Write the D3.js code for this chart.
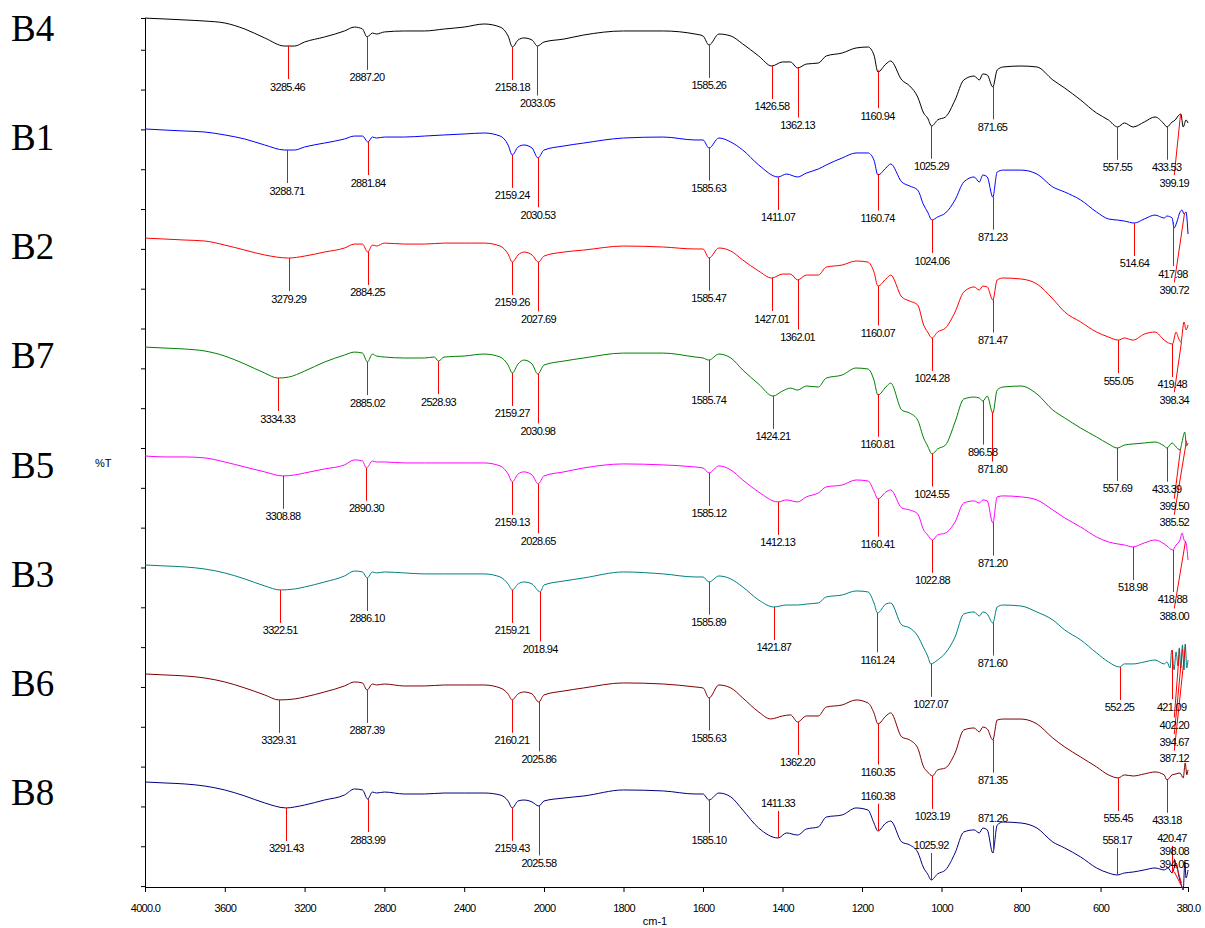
<!DOCTYPE html>
<html><head><meta charset="utf-8">
<script src="https://cdn.jsdelivr.net/npm/d3@7/dist/d3.min.js"></script>
<style>
body{margin:0;background:#fff}
svg{display:block}
</style>
</head><body>
<svg id="chart" width="1205" height="928"></svg>
<script>
// ---------------- DATA ----------------
const sampleNames = ["B4","B1","B2","B7","B5","B3","B6","B8"];
const stackOffsets = [700,600,500,400,300,200,100,0];   // %T offsets used to stack the spectra
const xTickValues = [4000,3600,3200,2800,2400,2000,1800,1600,1400,1200,1000,800,600,380];

// each spectrum: [wavenumber cm-1, %T]
const specB4 = [[4000,100],[3900,99.2],[3800,98.3],[3700,97.3],[3600,95.5],[3500,90.0],[3400,81.8],[3300,74.4],[3250,74.4],[3200,78.1],[3100,82.7],[3000,88.2],[2950,91.8],[2910,90.0],[2887,82.7],[2860,86.3],[2840,85.4],[2800,87.3],[2700,88.2],[2600,88.2],[2500,90.0],[2400,91.8],[2300,94.6],[2220,91.8],[2180,83.6],[2158,73.5],[2130,79.9],[2100,81.8],[2060,79.9],[2033,74.4],[2000,78.1],[1950,80.8],[1900,84.5],[1800,88.2],[1700,88.2],[1620,85.4],[1600,83.6],[1585,75.3],[1560,85.4],[1530,83.6],[1500,76.3],[1460,65.3],[1427,56.1],[1400,59.8],[1380,59.8],[1362,54.3],[1340,57.9],[1310,58.8],[1290,65.3],[1250,68.0],[1215,72.6],[1185,73.5],[1170,66.2],[1160,50.6],[1140,57.9],[1128,60.7],[1100,43.3],[1080,37.8],[1060,27.7],[1045,13.0],[1035,8.4],[1025,1.1],[1010,6.6],[990,9.4],[966,24.9],[944,43.3],[918,46.9],[905,43.3],[896,48.8],[885,47.9],[871,36.9],[860,52.4],[845,55.2],[800,56.1],[760,55.2],[720,43.3],[690,35.9],[650,24.9],[610,13.0],[580,6.6],[557,0.2],[540,3.9],[518,0.2],[490,4.8],[463,9.4],[440,2.9],[433,0.2],[420,4.8],[412,6.6],[405,10.3],[398,12.1],[392,0.2],[385,6.6],[380,3.9]];
const specB1 = [[4000,98.4],[3900,97.4],[3800,96.5],[3700,95.6],[3600,92.9],[3500,89.2],[3400,83.7],[3300,79.1],[3250,79.1],[3200,81.9],[3100,85.5],[3000,89.2],[2950,91.9],[2910,91.9],[2882,86.4],[2860,91.0],[2840,90.1],[2800,91.0],[2700,91.0],[2600,91.9],[2500,92.9],[2400,93.8],[2300,94.7],[2220,91.9],[2180,83.7],[2159,74.5],[2130,81.9],[2100,83.7],[2060,80.9],[2030,71.8],[2000,79.1],[1950,82.8],[1900,85.5],[1800,90.1],[1700,91.0],[1620,88.3],[1600,88.3],[1585,80.9],[1560,90.1],[1530,86.4],[1500,79.1],[1460,65.4],[1411,54.4],[1390,57.1],[1362,54.4],[1340,58.0],[1310,61.7],[1290,65.4],[1250,71.8],[1215,76.4],[1185,76.4],[1170,69.9],[1160,56.2],[1140,62.6],[1128,66.3],[1100,49.8],[1080,46.1],[1060,42.4],[1045,28.7],[1035,22.3],[1024,14.9],[1010,17.7],[990,21.4],[966,33.3],[944,49.8],[918,54.4],[905,49.8],[896,56.2],[885,54.4],[871,36.0],[860,58.9],[845,60.7],[800,60.7],[760,57.1],[720,45.2],[690,40.6],[650,33.3],[610,22.3],[580,15.9],[557,14.9],[540,14.0],[515,12.2],[490,15.9],[463,19.5],[440,16.8],[433,18.6],[420,16.8],[415,7.6],[408,13.1],[400,22.3],[395,24.1],[390,20.5],[385,22.3],[380,2.1]];
const specB2 = [[4000,98.4],[3900,97.5],[3800,96.6],[3700,95.7],[3600,92.0],[3500,87.4],[3400,82.9],[3280,80.1],[3200,81.9],[3100,85.6],[3000,89.3],[2950,92.9],[2910,92.9],[2884,85.6],[2860,92.0],[2840,91.1],[2800,93.8],[2700,92.9],[2600,92.9],[2500,93.8],[2400,93.8],[2300,93.8],[2220,91.1],[2180,83.8],[2159,76.4],[2130,82.9],[2100,85.6],[2060,82.9],[2028,76.4],[2000,81.9],[1950,85.6],[1900,87.4],[1800,91.1],[1700,90.2],[1620,88.4],[1600,88.4],[1585,80.1],[1560,89.3],[1530,86.5],[1500,78.3],[1460,68.2],[1427,61.8],[1400,65.4],[1380,65.4],[1362,60.0],[1340,64.5],[1310,64.5],[1290,71.8],[1250,73.7],[1215,77.4],[1185,76.4],[1170,67.3],[1160,54.4],[1140,60.9],[1128,64.5],[1100,44.4],[1080,40.7],[1060,37.1],[1045,18.7],[1035,12.3],[1024,6.8],[1010,12.3],[990,16.0],[966,30.6],[944,49.0],[918,53.6],[905,50.8],[896,54.4],[885,53.6],[871,41.6],[860,60.0],[845,61.8],[800,60.9],[760,56.3],[720,42.6],[690,30.6],[650,21.5],[610,12.3],[580,7.7],[555,4.9],[540,6.8],[518,4.9],[490,10.4],[463,12.3],[440,4.9],[433,3.1],[419,1.3],[410,12.3],[404,6.8],[398,3.1],[390,21.5],[385,14.2],[380,18.8]];
const specB7 = [[4000,98.5],[3900,97.6],[3800,96.7],[3700,94.9],[3600,90.3],[3500,83.0],[3400,74.7],[3334,70.1],[3280,71.0],[3200,76.5],[3100,84.8],[3000,91.2],[2950,93.9],[2910,93.0],[2885,84.8],[2860,92.1],[2840,90.3],[2800,89.4],[2700,88.5],[2600,88.5],[2550,89.4],[2529,85.7],[2500,89.4],[2400,90.3],[2300,92.1],[2220,89.4],[2180,82.0],[2159,74.7],[2130,83.0],[2100,86.6],[2060,83.0],[2031,73.8],[2000,82.0],[1950,85.7],[1900,88.5],[1800,93.0],[1700,93.0],[1620,89.4],[1600,88.5],[1585,86.6],[1560,92.1],[1530,88.5],[1500,77.5],[1460,64.6],[1424,53.6],[1400,58.2],[1380,60.9],[1362,59.1],[1340,62.8],[1310,61.9],[1290,70.1],[1250,72.9],[1215,79.3],[1185,78.4],[1170,68.3],[1160,54.5],[1140,61.9],[1128,65.5],[1100,40.8],[1080,38.0],[1060,31.6],[1045,15.1],[1035,7.8],[1024,0.5],[1010,5.1],[990,8.7],[966,29.8],[944,50.9],[918,52.7],[905,51.8],[896,49.0],[885,53.6],[871,38.0],[860,59.1],[845,61.9],[800,62.8],[760,55.5],[720,40.8],[690,33.5],[650,24.3],[610,16.1],[580,9.7],[558,6.0],[540,8.7],[518,9.7],[490,10.6],[463,11.5],[440,7.8],[433,6.0],[420,10.6],[410,7.0],[400,4.2],[395,11.5],[388,20.6],[384,7.8],[380,10.6]];
const specB5 = [[4000,98.7],[3900,97.8],[3800,97.8],[3700,96.9],[3600,93.2],[3500,88.6],[3400,84.1],[3309,80.4],[3250,81.3],[3200,83.1],[3100,86.8],[3000,90.5],[2950,95.1],[2910,94.1],[2890,87.7],[2860,94.1],[2840,93.2],[2800,93.2],[2700,92.3],[2600,92.3],[2500,92.3],[2400,92.3],[2300,92.3],[2220,89.6],[2180,82.2],[2159,74.9],[2130,82.2],[2100,84.1],[2060,81.3],[2029,73.1],[2000,80.4],[1950,84.1],[1900,87.7],[1800,91.4],[1700,90.5],[1620,88.6],[1600,87.7],[1585,83.1],[1560,89.6],[1530,85.9],[1500,76.7],[1460,65.7],[1412,56.6],[1390,58.4],[1362,56.6],[1340,61.2],[1310,64.8],[1290,70.3],[1250,72.1],[1215,76.7],[1185,75.8],[1170,66.6],[1160,59.3],[1140,65.7],[1128,67.6],[1100,51.1],[1080,49.2],[1060,45.6],[1045,30.9],[1035,26.3],[1023,21.7],[1010,26.3],[990,28.1],[966,38.2],[944,55.6],[918,57.5],[905,55.6],[896,58.4],[885,57.5],[871,37.3],[860,61.2],[845,62.1],[800,61.2],[760,58.4],[720,49.2],[690,41.9],[650,33.6],[610,24.5],[580,19.9],[557,18.1],[540,17.1],[519,15.3],[490,19.0],[463,21.7],[440,18.1],[433,16.2],[419,12.6],[410,17.1],[400,21.7],[395,28.1],[390,21.7],[385,19.0],[380,3.4]];
const specB3 = [[4000,98.8],[3900,97.9],[3800,97.0],[3700,95.1],[3600,91.5],[3500,86.0],[3400,79.6],[3322,75.9],[3250,76.8],[3200,78.6],[3100,83.2],[3000,88.7],[2950,93.3],[2910,92.4],[2886,86.9],[2860,92.4],[2840,91.5],[2800,92.4],[2700,91.5],[2600,90.6],[2500,90.6],[2400,90.6],[2300,90.6],[2220,87.8],[2180,81.4],[2159,75.9],[2130,81.4],[2100,83.2],[2060,81.4],[2019,74.1],[2000,80.5],[1950,84.1],[1900,86.9],[1800,92.4],[1700,90.6],[1620,87.8],[1600,87.8],[1585,83.2],[1560,88.7],[1530,86.0],[1500,78.6],[1460,66.7],[1422,60.3],[1390,62.1],[1362,62.1],[1340,63.0],[1310,64.0],[1290,69.5],[1250,71.3],[1215,75.0],[1185,74.1],[1170,64.0],[1161,54.8],[1140,63.0],[1128,64.0],[1100,43.8],[1080,41.1],[1060,33.8],[1045,22.8],[1035,15.4],[1027,8.1],[1010,11.7],[990,18.2],[966,32.8],[944,53.9],[918,55.7],[905,52.0],[896,55.7],[885,53.9],[871,45.6],[860,60.3],[845,62.1],[800,61.2],[760,55.7],[720,48.4],[690,39.2],[650,30.1],[610,18.2],[580,9.9],[552,5.3],[540,8.1],[518,8.1],[490,9.9],[463,11.7],[440,8.1],[433,9.9],[425,4.4],[421,20.9],[415,2.6],[410,19.1],[405,6.2],[402,22.8],[398,4.4],[394,25.5],[390,2.6],[387,26.4],[383,4.4],[380,11.7]];
const specB6 = [[4000,98.9],[3900,98.0],[3800,97.1],[3700,95.2],[3600,91.6],[3500,86.1],[3400,79.7],[3329,75.1],[3250,76.0],[3200,77.8],[3100,82.4],[3000,87.9],[2950,91.6],[2910,90.7],[2887,84.2],[2860,89.7],[2840,88.8],[2800,89.7],[2700,87.9],[2600,87.9],[2500,88.8],[2400,88.8],[2300,88.8],[2220,86.1],[2180,80.6],[2160,75.1],[2130,80.6],[2100,82.4],[2060,80.6],[2026,73.2],[2000,79.7],[1950,83.3],[1900,86.1],[1800,90.7],[1700,89.7],[1620,87.0],[1600,86.1],[1585,76.9],[1560,88.8],[1530,86.1],[1500,76.9],[1460,64.1],[1430,57.7],[1400,60.4],[1380,61.4],[1362,54.9],[1340,60.4],[1310,60.4],[1290,68.6],[1250,70.5],[1215,75.1],[1185,72.3],[1170,63.2],[1160,53.1],[1140,60.4],[1128,63.2],[1100,41.2],[1080,38.4],[1060,31.1],[1045,13.7],[1035,9.1],[1023,5.4],[1010,10.9],[990,12.8],[966,26.5],[944,47.6],[918,49.4],[905,45.8],[896,50.3],[885,48.5],[871,38.4],[860,56.7],[845,57.6],[800,57.6],[760,53.1],[720,40.2],[690,32.0],[650,22.8],[610,13.7],[580,6.4],[555,3.6],[540,6.4],[518,5.4],[490,7.3],[463,9.1],[440,6.4],[433,1.8],[420,6.4],[410,7.3],[400,8.2],[392,3.6],[387,17.4],[383,6.4],[380,11.0]];
const specB8 = [[4000,99.9],[3900,99.0],[3800,98.1],[3700,96.2],[3600,92.6],[3500,87.1],[3400,80.7],[3291,76.1],[3250,77.0],[3200,78.8],[3100,83.4],[3000,88.0],[2950,93.5],[2910,92.6],[2884,84.3],[2860,90.7],[2840,89.8],[2800,90.7],[2700,88.9],[2600,88.9],[2500,89.8],[2400,89.8],[2300,89.8],[2220,88.0],[2180,82.5],[2159,76.1],[2130,82.5],[2100,83.4],[2060,81.6],[2026,77.9],[2000,82.5],[1950,85.2],[1900,87.1],[1800,92.6],[1700,91.7],[1620,88.9],[1600,88.9],[1585,83.4],[1560,89.8],[1530,86.2],[1500,74.2],[1460,57.7],[1411,48.6],[1390,53.2],[1362,51.3],[1340,56.8],[1310,58.7],[1290,67.8],[1250,69.7],[1215,76.1],[1185,74.2],[1170,62.3],[1160,55.0],[1140,62.3],[1128,64.1],[1100,44.9],[1080,42.2],[1060,35.7],[1045,21.1],[1035,15.6],[1026,10.1],[1010,15.6],[990,19.3],[966,34.8],[944,54.1],[918,56.0],[905,53.2],[896,57.7],[885,56.0],[871,34.8],[860,60.4],[845,63.2],[800,62.3],[760,57.7],[720,44.9],[690,39.4],[650,31.2],[610,21.1],[580,16.5],[558,14.7],[540,16.5],[518,17.4],[490,19.3],[463,21.1],[440,19.3],[430,21.1],[420,16.5],[410,25.7],[402,11.9],[396,4.6],[392,0.9],[388,26.6],[385,11.9],[380,19.3]];

const peaksB4 = [3285.46,2887.20,2158.18,2033.05,1585.26,1426.58,1362.13,1160.94,1025.29,871.65,557.55,433.53,399.19];
const peaksB1 = [3288.71,2881.84,2159.24,2030.53,1585.63,1411.07,1160.74,1024.06,871.23,514.64,417.98,390.72];
const peaksB2 = [3279.29,2884.25,2159.26,2027.69,1585.47,1427.01,1362.01,1160.07,1024.28,871.47,555.05,419.48,398.34];
const peaksB7 = [3334.33,2885.02,2528.93,2159.27,2030.98,1585.74,1424.21,1160.81,1024.55,896.58,871.80,557.69,433.39,399.50,385.52];
const peaksB5 = [3308.88,2890.30,2159.13,2028.65,1585.12,1412.13,1160.41,1022.88,871.20,518.98,418.88,388.00];
const peaksB3 = [3322.51,2886.10,2159.21,2018.94,1585.89,1421.87,1161.24,1027.07,871.60,552.25,421.09,402.20,394.67,387.12];
const peaksB6 = [3329.31,2887.39,2160.21,2025.86,1585.63,1362.20,1160.35,1023.19,871.35,555.45,433.18];
const peaksB8 = [3291.43,2883.99,2159.43,2025.58,1585.10,1411.33,1160.38,1025.92,871.26,558.17,420.47,398.08,394.05];

const spectra = [specB4,specB1,specB2,specB7,specB5,specB3,specB6,specB8];
const peakLists = [peaksB4,peaksB1,peaksB2,peaksB7,peaksB5,peaksB3,peaksB6,peaksB8];

// ---------------- STYLE / LAYOUT ----------------
const colors = ["#000000","#0000ff","#ff0000","#008000","#ff00ff","#008080","#800000","#000080"];
const plot = {left:145, right:1188, top:18, bottom:887};
const numFont = '"Liberation Sans", Arial, sans-serif';

const svg = d3.select("#chart");
const x = d3.scaleLinear().domain([4000,2000,380]).range([plot.left,544,plot.right]);
const y = d3.scaleLinear().domain([0,800]).range([891,18.1]);

// axes
const xAxis = d3.axisBottom(x).tickValues(xTickValues)
  .tickFormat(d => (d===4000||d===380) ? d.toFixed(1) : String(d))
  .tickSize(5).tickSizeOuter(0).tickPadding(12);
const gx = svg.append("g").attr("transform",`translate(0,${plot.bottom})`).call(xAxis);
gx.select(".domain").attr("stroke","#000");
gx.selectAll("text").attr("font-family",numFont).attr("font-size",11)
  .attr("letter-spacing","-0.7px").attr("fill","#000");

const yTicks = d3.range(4.5, 800, 36.5);
const gy = svg.append("g").attr("transform",`translate(${plot.left},0)`)
  .call(d3.axisLeft(y).tickValues(yTicks).tickFormat("").tickSize(4).tickSizeOuter(0));
gy.select(".domain").remove();
svg.append("line").attr("x1",plot.left+0.5).attr("x2",plot.left+0.5)
  .attr("y1",plot.top).attr("y2",plot.bottom).attr("stroke","#000");
svg.append("line").attr("x1",plot.left-4).attr("x2",plot.left)
  .attr("y1",plot.top+0.5).attr("y2",plot.top+0.5).attr("stroke","#000");

svg.append("text").attr("x",95).attr("y",467).text("%T")
  .attr("font-family",numFont).attr("font-size",11).attr("fill","#000");
svg.append("text").attr("x",655).attr("y",925).attr("text-anchor","middle").text("cm-1")
  .attr("font-family",numFont).attr("font-size",11).attr("fill","#000");

// helpers
function valueAt(series, wn){
  for(let i=0;i<series.length-1;i++){
    const a=series[i], b=series[i+1];
    if(wn<=a[0] && wn>=b[0]){ const t=(a[0]-wn)/(a[0]-b[0]); return a[1]+t*(b[1]-a[1]); }
  }
  return series[series.length-1][1];
}

// spectra
spectra.forEach((s,k)=>{
  const off = stackOffsets[k];
  const line = d3.line().x(d=>x(d[0])).y(d=>y(d[1]+off)).curve(d3.curveMonotoneX);
  svg.append("path").datum(s).attr("d",line).attr("fill","none")
    .attr("stroke",colors[k]).attr("stroke-width",1);
  svg.append("text").attr("x",11).attr("y",y(off+100)+23).text(sampleNames[k])
    .attr("font-family",'"Liberation Serif","Times New Roman",serif').attr("font-size",37).attr("fill","#000");
});

// peak labels
const placed = [];
const ROW = 16.5, TH = 12;
function hits(x0,x1,t){ return placed.filter(p => x0<p.x1 && x1>p.x0 && t<p.y1 && t+TH>p.y0); }
const gPeaks = svg.append("g");
spectra.forEach((s,k)=>{
  const off = stackOffsets[k];
  peakLists[k].forEach(wn=>{
    const px = x(wn);
    const py = y(valueAt(s,wn)+off);
    let low = py;
    for(let q=px-22;q<=px+22;q++){
      const w = Math.max(380,Math.min(4000,x.invert(q)));
      low = Math.max(low, y(valueAt(s,w)+off));
    }
    const t = gPeaks.append("text").text(wn.toFixed(2))
      .attr("font-family",numFont).attr("font-size",11).attr("letter-spacing","-0.7px")
      .attr("fill","#000").attr("text-anchor","middle");
    const w = t.node().getComputedTextLength();
    let cx = Math.min(px, plot.right+1-w/2);
    const x0 = cx-w/2-1, x1 = cx+w/2+1;
    let top = Math.max(py+35, low+34);
    let above = top+TH > plot.bottom-10;
    if(!above){
      while(hits(x0,x1,top).length) top += ROW;
      if(top+TH > plot.bottom-8) above = true;
    }
    let lineEnd;
    if(above){
      const start = py-28-TH;
      top = start;
      let guard = 0;
      while(hits(x0,x1,top).length && guard++ < 20){
        // try the nearest free slot just below or just above the blocking labels
        const cands = [];
        hits(x0,x1,top).forEach(p=>{ cands.push(p.y1+1); cands.push(p.y0-TH-1); });
        cands.sort((a,b)=>Math.abs(a-start)-Math.abs(b-start));
        const free = cands.find(c => !hits(x0,x1,c).length && c+TH < py-6);
        top = free !== undefined ? free : top-ROW;
      }
      lineEnd = top+TH+1;
    } else {
      lineEnd = top-2;
    }
    placed.push({x0,x1,y0:top,y1:top+TH});
    const lx = Math.round(px)+0.5, ex = Math.abs(cx-px)<0.5 ? lx : cx;
    gPeaks.insert("line","text").attr("x1",lx).attr("y1",py).attr("x2",ex).attr("y2",lineEnd)
      .attr("stroke","#ff0000").attr("stroke-width",1);
    t.attr("x",cx).attr("y",top+9.5);
  });
});
</script>
</body></html>
